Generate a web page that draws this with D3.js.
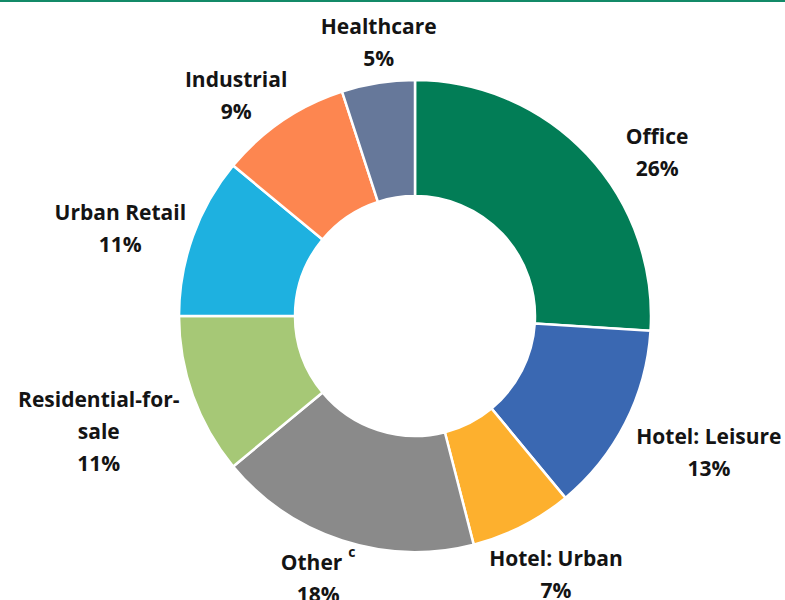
<!DOCTYPE html>
<html>
<head>
<meta charset="utf-8">
<script src="https://cdn.jsdelivr.net/npm/d3@7"></script>
<style>
  html, body { margin: 0; padding: 0; background: #fff; }
  svg { display: block; }
  .lbl { font-family: "Open Sans", "Noto Sans", sans-serif; font-weight: 700; font-size: 21px; fill: #141414; }
</style>
</head>
<body>
<div id="chart"></div>
<script>
// Chart data
const categories = ['Office', 'Hotel: Leisure', 'Hotel: Urban', 'Other', 'Residential-for-sale', 'Urban Retail', 'Industrial', 'Healthcare'];
const shares = [26, 13, 7, 18, 11, 11, 9, 5];
const labelLines = [['Office'], ['Hotel: Leisure'], ['Hotel: Urban'], ['Other'], ['Residential-for-', 'sale'], ['Urban Retail'], ['Industrial'], ['Healthcare']];
const footnotes = ['', '', '', 'c', '', '', '', ''];
const colors = ['#027d56', '#3a68b2', '#fdb02e', '#8a8a8a', '#a6c876', '#1eb1e0', '#fd8650', '#66789a'];

// manual nudges where Excel's best-fit placement departs from the simple rule
const nudge = {
    'Office': [37, 29],
    'Hotel: Leisure': [12, -8],
    'Hotel: Urban': [7, -5],
    'Other': [-10, -8],
    'Residential-for-sale': [-6, 3],
    'Urban Retail': [-3, 17],
    'Industrial': [-15, 20],
    'Healthcare': [7, -1]
};

const width = 785, height = 600;
const cx = 415, cy = 316;
const outerR = 236, innerR = 120;

const svg = d3.select('#chart').append('svg')
    .attr('width', width)
    .attr('height', height)
    .attr('viewBox', [0, 0, width, height]);

// thin green rule across the top
svg.append('line')
    .attr('x1', 0).attr('x2', width)
    .attr('y1', 1).attr('y2', 1)
    .attr('stroke', '#138a68')
    .attr('stroke-width', 2);

const pie = d3.pie().sort(null).value(d => d.value);
const arc = d3.arc().innerRadius(innerR).outerRadius(outerR);

const data = categories.map((c, i) => ({ name: c, value: shares[i], color: colors[i], lines: labelLines[i], note: footnotes[i] }));
const arcs = pie(data);

const g = svg.append('g').attr('transform', `translate(${cx},${cy})`);

g.selectAll('path')
    .data(arcs)
    .join('path')
    .attr('d', arc)
    .attr('fill', d => d.data.color)
    .attr('stroke', '#fff')
    .attr('stroke-width', 2.5);

// labels
const lineH = 32;
const supShift = 13;
const labels = g.selectAll('text.lbl')
    .data(arcs)
    .join('text')
    .attr('class', 'lbl')
    .attr('text-anchor', 'middle');

labels.each(function(d) {
    const t = d3.select(this);
    const lines = d.data.lines.concat([d.data.value + '%']);
    let pending = 0;
    lines.forEach((ln, i) => {
        t.append('tspan').attr('x', 0).attr('dy', i === 0 ? 0 : lineH + pending).text(ln);
        pending = 0;
        if (i === 0 && d.data.note) {
            t.append('tspan').attr('dx', 6).attr('dy', -supShift).style('font-size', '14px').text(d.data.note);
            pending = supShift;
        }
    });
});

// place each label just outside the ring along its mid angle
labels.each(function(d) {
    const t = d3.select(this);
    const bb = this.getBBox();
    const a = (d.startAngle + d.endAngle) / 2;
    const s = Math.sin(a), c = -Math.cos(a);
    const r = outerR + 2 + Math.abs(s) * bb.width / 2 + Math.abs(c) * bb.height / 2;
    const n = nudge[d.data.name] || [0, 0];
    const bx = r * s + n[0], by = r * c + n[1];
    const ox = bx - (bb.x + bb.width / 2);
    const oy = by - (bb.y + bb.height / 2);
    t.attr('transform', `translate(${ox},${oy})`);
});
</script>
</body>
</html>
